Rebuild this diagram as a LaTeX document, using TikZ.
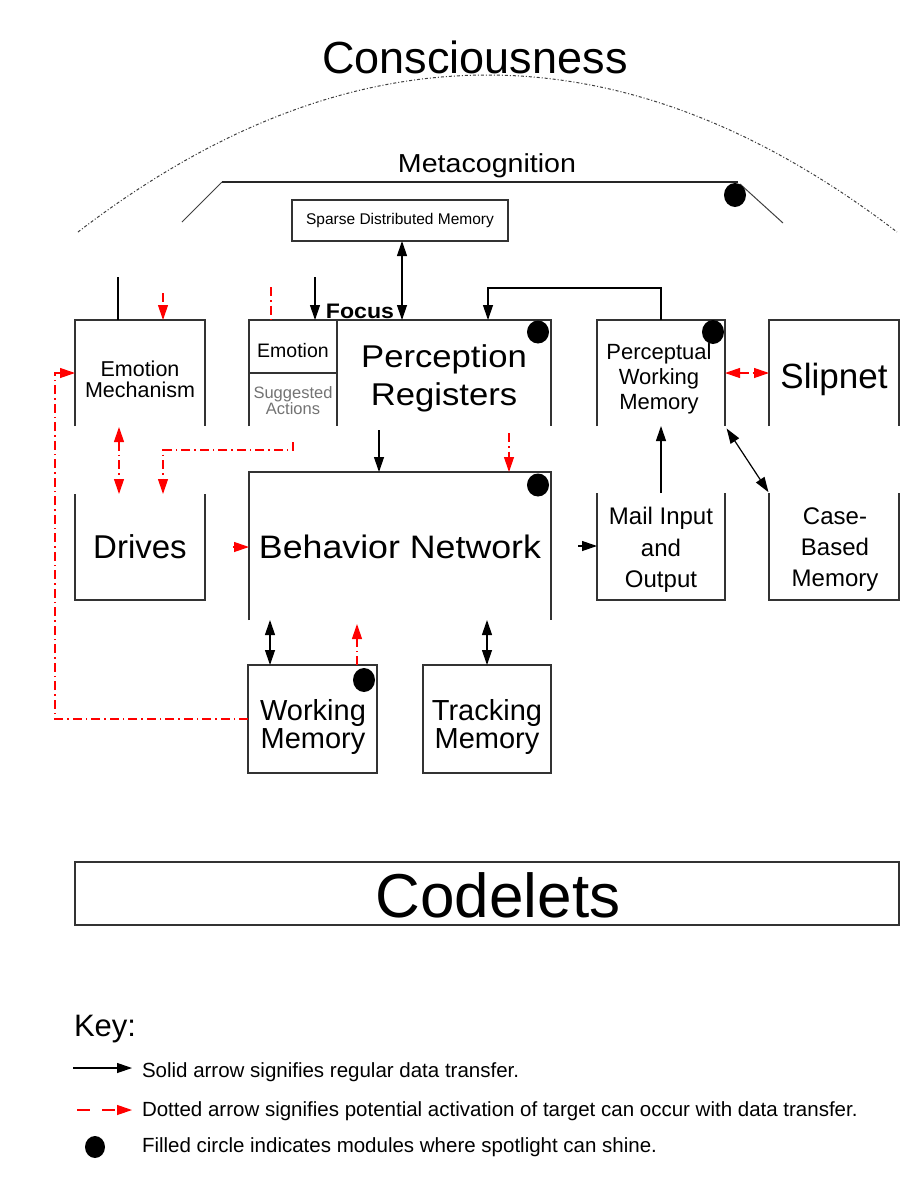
\documentclass[tikz,border=0pt]{standalone}
\usepackage{fontspec}
\setmainfont{Liberation Sans}
\newfontfamily\widefont{Liberation Sans}[FakeStretch=1.1]
\usetikzlibrary{arrows.meta,calc}
\newcommand\fs[2]{\fontsize{#1}{#2}\selectfont}
\begin{document}
\begin{tikzpicture}[x=1pt,y=-1pt,
  >={Triangle[length=15pt,width=10pt]},
  area/.style={draw=none,inner sep=0pt,outer sep=0pt},
  boxline/.style={line width=1.6pt,draw=black!80},
  txt/.style={inner sep=0pt,outer sep=0pt,align=center},
  arr/.style={line width=1.2pt,draw=black,->},
  dbl/.style={line width=1.2pt,draw=black,<->},
  plain/.style={line width=1.2pt,draw=black},
  rline/.style={draw=red,line width=1.2pt,dash pattern=on 9pt off 4pt on 1.5pt off 4pt},
  rarr/.style={rline,->},
  rdbl/.style={rline,<->},
  spot/.style={fill=black}
]
\useasboundingbox[fill=white] (0,0) rectangle (915,1192);

% ---------- consciousness / metacognition ----------
\node[txt,font={\fs{45}{50}},anchor=base] (cons) at (475,73) {Consciousness};
\draw[black!75,line width=1pt,dash pattern=on 3pt off 2pt on 1pt off 2pt]
  (78,232) .. controls (350.7,22.7) and (623.7,22.7) .. (897,232);
\node[txt,font={\widefont\fs{26}{30}},anchor=base] (meta) at (487,172) {Metacognition};
\draw[line width=1pt,black!75] (182,222) -- (222,182);
\draw[line width=1.8pt,black!85] (222,182) -- (738,182);
\draw[line width=1pt,black!75] (740,184) -- (783,223);
\fill[spot] (735,195) ellipse [x radius=11,y radius=12];

% ---------- Sparse Distributed Memory ----------
\node[area,draw=black!80,line width=1.5pt,minimum width=216pt,minimum height=41pt,
      font={\fs{15.5}{18}}] (sdm) at (400,220.5) {Sparse Distributed Memory};

% ---------- Emotion Mechanism / Drives ----------
\node[area,minimum width=130pt,minimum height=106pt] (em) at (140,373) {};
\draw[boxline] (em.south west) -- (em.north west) -- (em.north east) -- (em.south east);
\node[txt,font={\fs{21.5}{21}}] (emt) at (140,379) {Emotion\\Mechanism};

\node[area,minimum width=130pt,minimum height=106pt,font={\fs{33}{36}}] (dr) at (140,547) {Drives};
\draw[boxline] (dr.north west) -- (dr.south west) -- (dr.south east) -- (dr.north east);

% ---------- Emotion / Suggested Actions / Perception Registers ----------
\node[area,minimum width=88pt,minimum height=53pt] (emo) at (293,346.5) {};
\node[area,minimum width=88pt,minimum height=53pt] (sa) at (293,399.5) {};
\node[area,minimum width=214pt,minimum height=106pt] (pr) at (444,373) {};
\draw[boxline] (sa.south west) -- (emo.north west) -- (pr.north east) -- (pr.south east);
\draw[boxline] (pr.north west) -- (pr.south west);
\draw[boxline] (emo.south west) -- (emo.south east);
\node[txt,font={\fs{19.5}{22}}] (emot) at (293,351) {Emotion};
\node[txt,font={\fs{16.5}{16}},text=black!55] (sat) at (293,401) {Suggested\\Actions};
\node[txt,font={\widefont\fs{31.5}{38}}] (prt) at (444,378) {Perception\\Registers};
\fill[spot] (538,332) ellipse [x radius=11,y radius=11.5];
\node[txt,font={\widefont\bfseries\fs{21}{24}},anchor=base] (focus) at (360,318) {Focus};

% ---------- Behavior Network ----------
\node[area,minimum width=302pt,minimum height=148pt] (bn) at (400,546) {};
\draw[boxline] (bn.south west) -- (bn.north west) -- (bn.north east) -- (bn.south east);
\node[txt,font={\widefont\fs{32.5}{36}}] (bnt) at (400,547) {Behavior Network};
\fill[spot] (538,485) ellipse [x radius=11,y radius=11.5];

% ---------- Working / Tracking Memory ----------
\node[area,draw=black!80,line width=1.5pt,minimum width=129pt,minimum height=108pt] (wm) at (312.5,719) {};
\node[txt,font={\fs{29}{28}}] (wmt) at (313,727) {Working\\Memory};
\fill[spot] (364,680) ellipse [x radius=11,y radius=12];
\node[area,draw=black!80,line width=1.5pt,minimum width=128pt,minimum height=108pt] (tm) at (487,719) {};
\node[txt,font={\fs{29}{28}}] (tmt) at (487,727) {Tracking\\Memory};

% ---------- Perceptual Working Memory / Mail ----------
\node[area,minimum width=128pt,minimum height=106pt] (pwm) at (661,373) {};
\draw[boxline] (pwm.south west) -- (pwm.north west) -- (pwm.north east) -- (pwm.south east);
\node[txt,font={\fs{22}{25}}] (pwmt) at (659,379) {Perceptual\\Working\\Memory};
\fill[spot] (713,332) ellipse [x radius=11,y radius=12];

\node[area,minimum width=128pt,minimum height=107pt] (mail) at (661,546.5) {};
\draw[boxline] (mail.north west) -- (mail.south west) -- (mail.south east) -- (mail.north east);
\node[txt,font={\fs{24}{31.5}}] (mailt) at (661,550) {Mail Input\\and\\Output};

% ---------- Slipnet / Case-Based Memory ----------
\node[area,minimum width=130pt,minimum height=106pt] (slip) at (834,373) {};
\draw[boxline] (slip.south west) -- (slip.north west) -- (slip.north east) -- (slip.south east);
\node[txt,font={\fs{35}{40}},anchor=base] (slipt) at (834,388) {Slipnet};

\node[area,minimum width=130pt,minimum height=107pt] (cbm) at (834,546.5) {};
\draw[boxline] (cbm.north west) -- (cbm.south west) -- (cbm.south east) -- (cbm.north east);
\node[txt,font={\fs{24}{31}}] (cbmt) at (835,550) {Case-\\Based\\Memory};

% ---------- Codelets ----------
\node[area,draw=black!80,line width=1.5pt,minimum width=824pt,minimum height=63pt] (cod) at (487,893.5) {};
\node[txt,font={\fs{62}{66}}] (codt) at (498,895) {Codelets};

% ---------- x / y levels for connectors ----------
\coordinate (x55) at (55,0);
\coordinate (x119) at (119,0);
\coordinate (x163) at (163,0);
\coordinate (x270) at (270,0);
\coordinate (x293) at (293,0);
\coordinate (x357) at (357,0);
\coordinate (x379) at (379,0);
\coordinate (x402) at (402,0);
\coordinate (x487) at (487,0);
\coordinate (x488) at (488,0);
\coordinate (x509) at (509,0);
\coordinate (x661) at (661,0);
\coordinate (y450) at (0,450);

% free stubs
\coordinate (s1) at (118,277);
\coordinate (s2) at (163,293);
\coordinate (s3) at (271,287);
\coordinate (s4) at (315,277);

% ---------- connectors ----------
\draw[dbl] (x402 |- sdm.south) -- (x402 |- pr.north);
\draw[plain] (s1) -- (s1 |- em.north);
\draw[rarr] (s2) -- (s2 |- em.north);
\draw[rline] (s3) -- (s3 |- emo.north);
\draw[arr] (s4) -- (s4 |- emo.north);
\draw[arr] (x661 |- pwm.north) -- ++(0,-32) -| (x488 |- pr.north);
\draw[arr,shorten <=4pt] (x379 |- pr.south) -- (x379 |- bn.north);
\draw[rarr,shorten <=7pt] (x509 |- pr.south) -- (x509 |- bn.north);
\draw[rdbl,shorten <=1pt] (x119 |- em.south) -- (x119 |- dr.north);
\draw[rarr,shorten <=16pt] (x293 |- sa.south) |- (x163 |- y450) -- (x163 |- dr.north);
\draw[rarr,shorten <=28pt] (dr.east) -- (dr.east -| bn.west);
\draw[arr,shorten <=27pt] (bn.east) -- (bn.east -| mail.west);
\draw[arr] (x661 |- mail.north) -- (x661 |- pwm.south);
\draw[dbl,shorten <=1pt,shorten >=3pt] (cbm.north west) -- (pwm.south east);
\draw[rdbl] (pwm.east) -- (slip.west);
\draw[dbl] (x270 |- bn.south) -- (x270 |- wm.north);
\draw[rarr,shorten >=4pt] (x357 |- wm.north) -- (x357 |- bn.south);
\draw[dbl] (x487 |- bn.south) -- (x487 |- tm.north);
\draw[rarr] (wm.west) -| (x55 |- em.west) -- (em.west);

% ---------- key ----------
\node[txt,font={\fs{31}{34}},anchor=base west] (key) at (74,1036) {Key:};
\coordinate (k1a) at (73,1068);
\coordinate (k1b) at (132,1068);
\draw[arr] (k1a) -- (k1b);
\node[txt,font={\fs{20.5}{24}},anchor=base west] (k1) at (142,1077) {Solid arrow signifies regular data transfer.};
\coordinate (k2a) at (77,1110);
\coordinate (k2b) at (132,1110);
\draw[rarr,dash pattern=on 13pt off 12pt] (k2a) -- (k2b);
\node[txt,font={\fs{20.5}{24}},anchor=base west] (k2) at (142,1116) {Dotted arrow signifies potential activation of target can occur with data transfer.};
\fill[spot] (95,1147) ellipse [x radius=10,y radius=11];
\node[txt,font={\fs{20.5}{24}},anchor=base west] (k3) at (142,1152) {Filled circle indicates modules where spotlight can shine.};
\end{tikzpicture}
\end{document}
